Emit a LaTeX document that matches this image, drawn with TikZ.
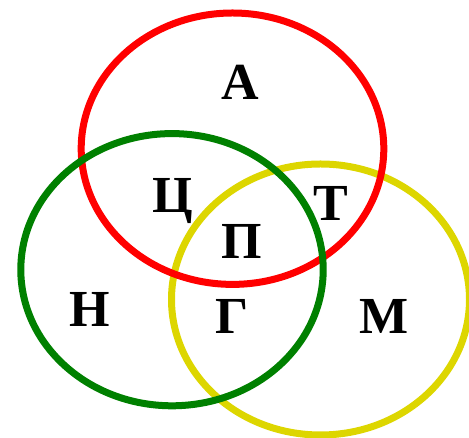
\documentclass[tikz,border=0pt]{standalone}
\usepackage{fontspec}
\setmainfont{Liberation Serif}
\definecolor{vred}{RGB}{255,0,0}
\definecolor{vgreen}{RGB}{0,128,0}
\definecolor{vyellow}{RGB}{221,214,0}
\tikzset{
  ring/.style={line width=7pt},
  lbl/.style={inner sep=0pt, anchor=base, font=\fontsize{52}{52}\selectfont\bfseries}
}
\begin{document}
\begin{tikzpicture}[x=1pt,y=1pt]
\useasboundingbox (0,0) rectangle (469,438);
\draw[ring, vyellow] (320.5,138.5) ellipse [x radius=149pt, y radius=135.5pt];
\draw[ring, vred] (232.5,289.3) ellipse [x radius=151.3pt, y radius=135.7pt];
\draw[ring, vgreen] (172,168.3) ellipse [x radius=151.2pt, y radius=136.1pt];
\node[lbl] (a) at (240,338) {А};
\node[lbl] (c) at (173,225) {Ц};
\node[lbl] (t) at (331,217) {Т};
\node[lbl] (p) at (241.5,179) {П};
\node[lbl] (n) at (89.5,111) {Н};
\node[lbl] (g) at (232.5,104) {Г};
\node[lbl] (m) at (384,104) {М};
\end{tikzpicture}
\end{document}
